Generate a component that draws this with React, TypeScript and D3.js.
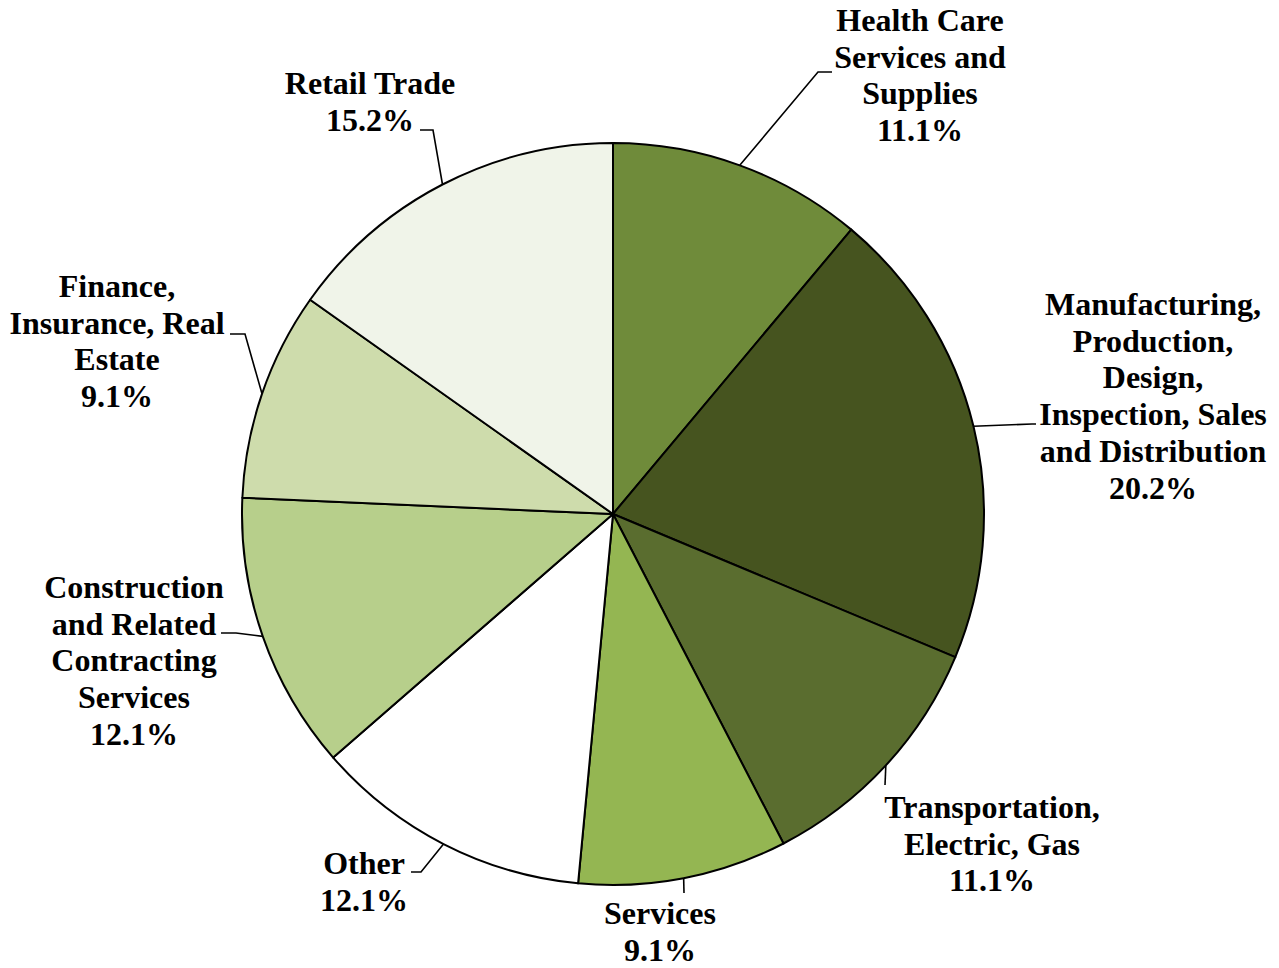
import { useEffect, useRef } from 'react';
import * as d3 from 'd3';

// Chart data
const categories = [
  'Health Care Services and Supplies',
  'Manufacturing, Production, Design, Inspection, Sales and Distribution',
  'Transportation, Electric, Gas',
  'Services',
  'Other',
  'Construction and Related Contracting Services',
  'Finance, Insurance, Real Estate',
  'Retail Trade',
];
const shares = [11.1, 20.2, 11.1, 9.1, 12.1, 12.1, 9.1, 15.2];
const labelLines = [
  ['Health Care', 'Services and', 'Supplies'],
  ['Manufacturing,', 'Production,', 'Design,', 'Inspection, Sales', 'and Distribution'],
  ['Transportation,', 'Electric, Gas'],
  ['Services'],
  ['Other'],
  ['Construction', 'and Related', 'Contracting', 'Services'],
  ['Finance,', 'Insurance, Real', 'Estate'],
  ['Retail Trade'],
];
const colors = ['#6f8b3a', '#46541f', '#5a6d2f', '#94b652', '#ffffff', '#b7cf8b', '#cedcac', '#f0f4e9'];

// Label layout: center x, first line center y, leader elbow and end
const labelLayout = [
  { x: 920, y: 20, elbow: [818, 72], end: [832, 72] },
  { x: 1153, y: 304, elbow: [1032, 424], end: [1036, 424] },
  { x: 992, y: 807, elbow: [885, 785], end: [885, 785] },
  { x: 660, y: 913, elbow: [684, 893], end: [684, 893] },
  { x: 364, y: 863, elbow: [421, 872], end: [411, 872] },
  { x: 134, y: 587, elbow: [236, 633], end: [221, 633] },
  { x: 117, y: 286, elbow: [245, 334], end: [230, 334] },
  { x: 370, y: 83, elbow: [433, 130], end: [420, 130] },
];

const width = 1279;
const height = 968;
const cx = 613;
const cy = 514;
const radius = 371;
const lineGap = 36.7;

type Slice = { name: string; value: number; index: number };

export default function App() {
  const svgRef = useRef<SVGSVGElement>(null);

  useEffect(() => {
    if (!svgRef.current) return;
    const svg = d3.select(svgRef.current);
    svg.selectAll('*').remove();

    const data: Slice[] = categories.map((name, i) => ({ name, value: shares[i], index: i }));

    const pie = d3.pie<Slice>().value(d => d.value).sort(null);
    const arc = d3.arc<d3.PieArcDatum<Slice>>().innerRadius(0).outerRadius(radius);
    const arcs = pie(data);

    const g = svg.append('g').attr('transform', `translate(${cx},${cy})`);

    g.selectAll('path.slice')
      .data(arcs)
      .enter().append('path')
      .attr('class', 'slice')
      .attr('d', arc)
      .attr('fill', d => colors[d.data.index])
      .attr('stroke', '#000')
      .attr('stroke-width', 2)
      .attr('stroke-linejoin', 'round');

    // Leader lines from the arc midpoint
    arcs.forEach(d => {
      const mid = (d.startAngle + d.endAngle) / 2;
      const px = cx + radius * Math.sin(mid);
      const py = cy - radius * Math.cos(mid);
      const lay = labelLayout[d.data.index];
      svg.append('polyline')
        .attr('points', `${px},${py} ${lay.elbow[0]},${lay.elbow[1]} ${lay.end[0]},${lay.end[1]}`)
        .attr('fill', 'none')
        .attr('stroke', '#000')
        .attr('stroke-width', 1.6);
    });

    // Labels
    const fmt = d3.format('.1f');
    arcs.forEach(d => {
      const lay = labelLayout[d.data.index];
      const lines = [...labelLines[d.data.index], `${fmt(d.data.value)}%`];
      const t = svg.append('text')
        .attr('text-anchor', 'middle')
        .attr('font-family', '"Liberation Serif", "Times New Roman", serif')
        .attr('font-weight', 'bold')
        .attr('font-size', 32)
        .attr('fill', '#000');
      lines.forEach((line, i) => {
        t.append('tspan')
          .attr('x', lay.x)
          .attr('y', lay.y + i * lineGap + 11)
          .text(line);
      });
    });
  }, []);

  return (
    <div style={{ position: 'absolute', left: 0, top: 0 }}>
      <svg ref={svgRef} width={width} height={height} style={{ display: 'block', background: '#fff' }} />
    </div>
  );
}
